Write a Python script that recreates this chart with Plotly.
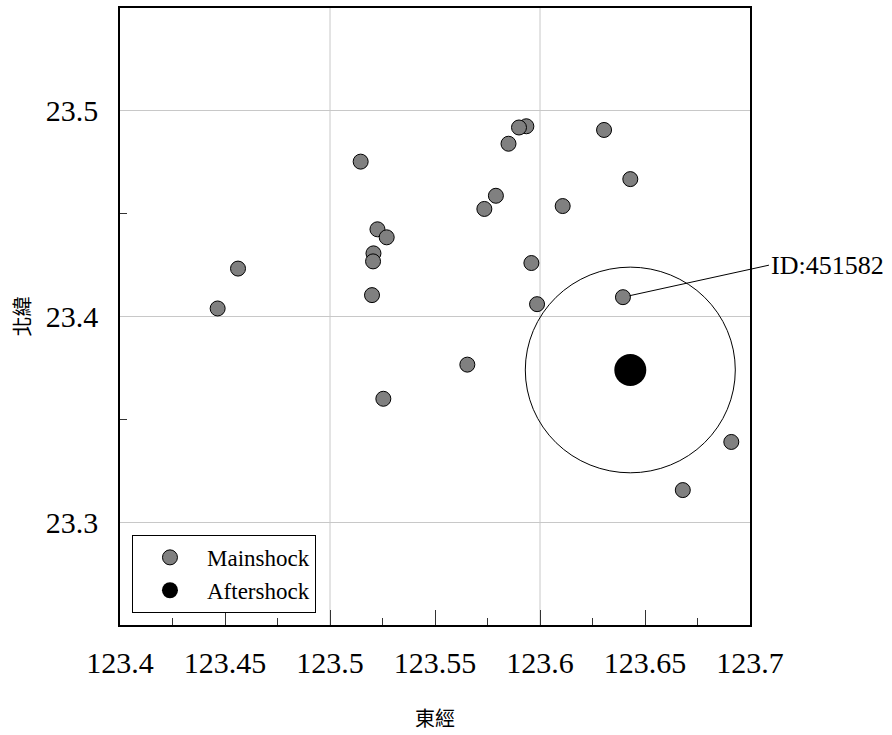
import plotly.graph_objects as go

# Epicentres of the main shocks (longitude E, latitude N)
main_lon = [123.5146, 123.5226, 123.5270, 123.5207, 123.5205, 123.5200,
            123.4562, 123.4465, 123.5654, 123.5254, 123.5935, 123.5900,
            123.5850, 123.6305, 123.6430, 123.5790, 123.5735, 123.6108,
            123.5959, 123.5986, 123.6395, 123.6911, 123.6680]
main_lat = [23.4753, 23.4424, 23.4385, 23.4307, 23.4268, 23.4104,
            23.4233, 23.4039, 23.3766, 23.3600, 23.4925, 23.4919,
            23.4840, 23.4907, 23.4668, 23.4587, 23.4523, 23.4537,
            23.4260, 23.4060, 23.4094, 23.3390, 23.3156]

# Aftershock epicentre and search radius (degrees)
after_lon = [123.6430]
after_lat = [23.3740]
radius_deg = 0.05

# Labelled event
label_id = "ID:451582"
label_lon = 123.6395
label_lat = 23.4094

x_range = [123.4, 123.7]
y_range = [23.25, 23.55]
x_grid = [123.5, 123.6]

serif = "Liberation Serif"
cjk = "Noto Sans CJK TC"

fig = go.Figure()

fig.add_trace(go.Scatter(
    x=main_lon, y=main_lat, mode="markers", name="Mainshock",
    marker=dict(size=15, color="#808080", line=dict(color="black", width=1)),
))
fig.add_trace(go.Scatter(
    x=after_lon, y=after_lat, mode="markers", name="Aftershock",
    marker=dict(size=32, color="black", line=dict(color="black", width=0)),
))

# vertical grid lines every 0.1 degree
for gx in x_grid:
    fig.add_shape(type="line", xref="x", yref="paper", x0=gx, x1=gx, y0=0, y1=1,
                  line=dict(color="#c8c8c8", width=1), layer="below")

# search circle around the aftershock
fig.add_shape(type="circle", xref="x", yref="y",
              x0=after_lon[0] - radius_deg, x1=after_lon[0] + radius_deg,
              y0=after_lat[0] - radius_deg, y1=after_lat[0] + radius_deg,
              line=dict(color="black", width=1))

fig.add_annotation(
    x=label_lon, y=label_lat, xref="x", yref="y",
    text=label_id, showarrow=True, arrowhead=0, arrowwidth=1, arrowcolor="black",
    ax=146, ay=-32, xanchor="left", yanchor="middle", standoff=7,
    font=dict(family=serif, size=26, color="black"),
)

fig.update_layout(
    width=892, height=735,
    margin=dict(l=120, r=142, t=8, b=110),
    paper_bgcolor="white", plot_bgcolor="white",
    showlegend=True,
    legend=dict(
        x=0.019, y=0.146, xanchor="left", yanchor="top",
        bgcolor="white", bordercolor="black", borderwidth=1,
        font=dict(family=serif, size=23, color="black"),
        itemwidth=64,
    ),
    xaxis=dict(
        range=x_range, dtick=0.05, tick0=123.4, automargin=False,
        showgrid=False, zeroline=False,
        showline=True, linecolor="black", linewidth=1.5, mirror=True,
        ticks="inside", ticklen=15, tickcolor="#333", tickwidth=1,
        ticklabelstandoff=10,
        minor=dict(dtick=0.025, tick0=123.4, ticks="inside", ticklen=7, tickcolor="#333", showgrid=False),
        tickfont=dict(family=serif, size=30, color="black"),
        title=dict(text="東經", font=dict(family=cjk, size=20, color="black"), standoff=34),
    ),
    yaxis=dict(
        range=y_range, dtick=0.1, tick0=23.3, automargin=False,
        showgrid=True, gridcolor="#c8c8c8", gridwidth=1, zeroline=False,
        showline=True, linecolor="black", linewidth=1.5, mirror=True,
        ticks="inside", ticklen=0, tickcolor="#333",
        ticklabelstandoff=14,
        minor=dict(dtick=0.05, tick0=23.3, ticks="inside", ticklen=7, tickcolor="#333", showgrid=False),
        tickfont=dict(family=serif, size=30, color="black"),
        title=dict(text="北緯", font=dict(family=cjk, size=20, color="black"), standoff=10),
    ),
)

fig.write_html("out.html")
